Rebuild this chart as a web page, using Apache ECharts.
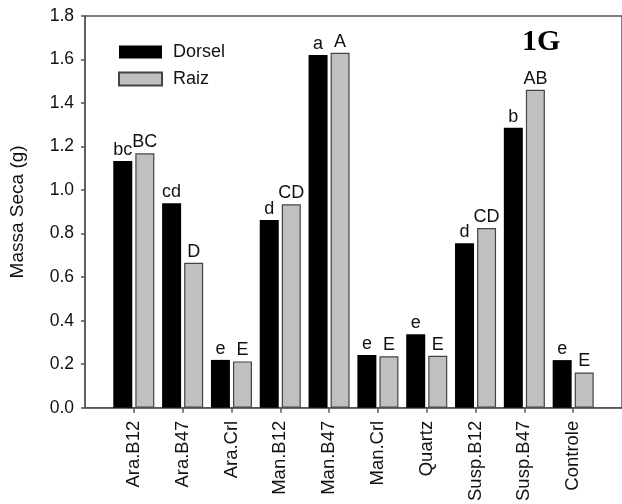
<!DOCTYPE html>
<html>
<head>
<meta charset="utf-8">
<script src="https://cdn.jsdelivr.net/npm/echarts@6/dist/echarts.min.js"></script>
<style>html,body{margin:0;padding:0;background:#fff;}#c{width:622px;height:504px;}</style>
</head>
<body>
<div id="c"></div>
<script>
const categories = ['Ara.B12','Ara.B47','Ara.Crl','Man.B12','Man.B47','Man.Crl','Quartz','Susp.B12','Susp.B47','Controle'];
const dorsel = [1.134, 0.940, 0.220, 0.863, 1.621, 0.243, 0.338, 0.756, 1.287, 0.219];
const raiz = [1.169, 0.666, 0.213, 0.935, 1.631, 0.237, 0.239, 0.826, 1.461, 0.162];
const dorselLetters = ['bc','cd','e','d','a','e','e','d','b','e'];
const raizLetters = ['BC','D','E','CD','A','E','E','CD','AB','E'];
const yTicks = [0, 0.2, 0.4, 0.6, 0.8, 1.0, 1.2, 1.4, 1.6, 1.8];

const axisCats = [''].concat(categories, ['']);
const pad = v => [null].concat(v, [null]);
const padL = v => [''].concat(v, ['']);
const dL = padL(dorselLetters), rL = padL(raizLetters);
const FONT = 'Liberation Sans';

const chart = echarts.init(document.getElementById('c'), null, {renderer: 'canvas'});
chart.setOption({
  animation: false,
  backgroundColor: '#fff',
  textStyle: {fontFamily: FONT},
  grid: {left: 84, top: 16, bottom: 95, right: -11, show: true, borderColor: '#555', borderWidth: 1.5, backgroundColor: 'transparent'},
  legend: {
    orient: 'vertical', left: 113, top: 38, itemWidth: 43, itemHeight: 13, itemGap: 9,
    icon: 'rect',
    textStyle: {fontSize: 18, color: '#111', fontFamily: FONT, padding: [0, 0, 0, 6]},
    data: ['Dorsel', 'Raiz']
  },
  xAxis: {
    type: 'category', data: axisCats, boundaryGap: false,
    axisLine: {lineStyle: {color: '#555', width: 1.5}},
    axisTick: {length: 5, lineStyle: {color: '#555', width: 1.5}, interval: (i, v) => v !== ''},
    axisLabel: {rotate: 90, fontSize: 18.5, color: '#111', margin: 13, interval: 0, fontFamily: FONT},
    splitLine: {show: false}
  },
  yAxis: {
    type: 'value', min: 0, max: 1.8, interval: 0.2,
    name: 'Massa Seca (g)', nameLocation: 'middle', nameGap: 58, nameRotate: 90,
    nameTextStyle: {fontSize: 19, color: '#111', fontFamily: FONT, padding: [0, 0, 0, 0]},
    axisLine: {show: true, lineStyle: {color: '#555', width: 1.5}},
    axisTick: {show: true, length: 4, lineStyle: {color: '#555', width: 1.5}},
    axisLabel: {fontSize: 17.5, color: '#111', margin: 11, formatter: v => v.toFixed(1), fontFamily: FONT},
    splitLine: {show: false}
  },
  series: [
    {
      name: 'Dorsel', type: 'bar', data: pad(dorsel), barWidth: 19, barGap: '16%',
      itemStyle: {color: '#000', borderColor: '#000', borderWidth: 0},
      label: {show: true, position: 'top', distance: 2, fontSize: 18, color: '#111', fontFamily: FONT,
        formatter: p => dL[p.dataIndex]}
    },
    {
      name: 'Raiz', type: 'bar', data: pad(raiz), barWidth: 19,
      itemStyle: {color: '#c0c0c0', borderColor: '#444', borderWidth: 1.2},
      label: {show: true, position: 'top', distance: 2, fontSize: 18, color: '#111', fontFamily: FONT,
        formatter: p => rL[p.dataIndex]}
    }
  ],
  graphic: [
    {type: 'text', left: 522, top: 27, style: {text: '1G', font: 'bold 30px "Liberation Serif"', fill: '#000'}}
  ]
});
</script>
</body>
</html>
